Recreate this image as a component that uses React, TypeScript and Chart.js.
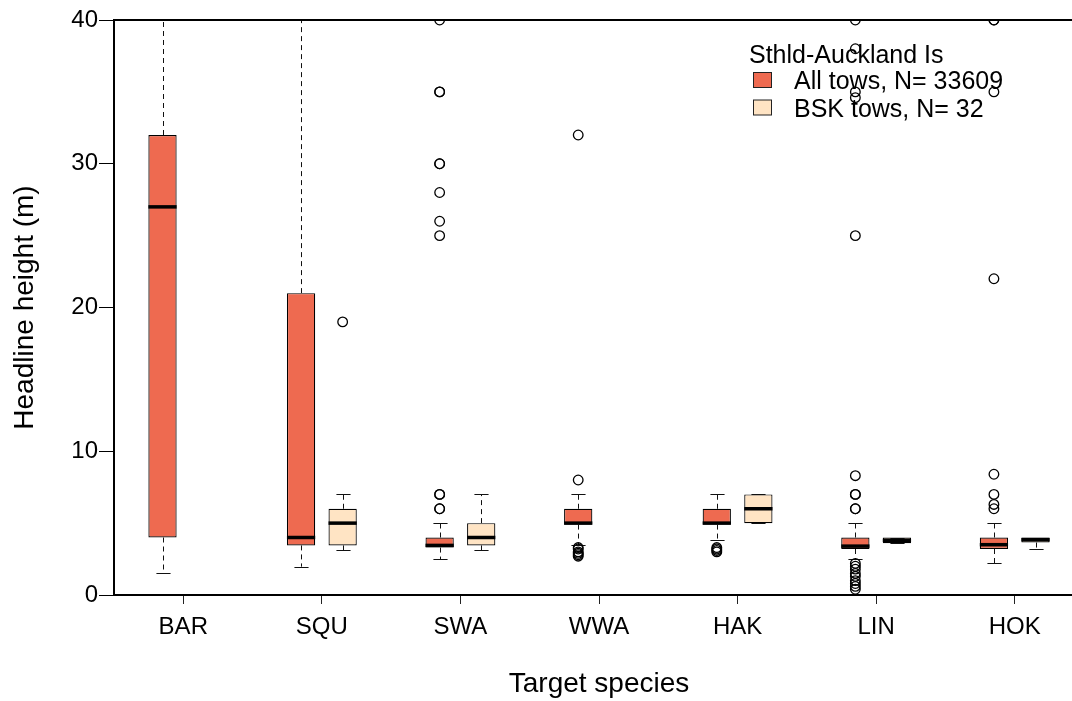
import React, { useEffect, useRef } from 'react';
import { Chart, registerables } from 'chart.js';

Chart.register(...registerables);

// ---------- data ----------
const species = ['BAR', 'SQU', 'SWA', 'WWA', 'HAK', 'LIN', 'HOK'];
const seriesNames = ['All tows, N= 33609', 'BSK tows, N= 32'];
const legendTitle = 'Sthld-Auckland Is';
const seriesColors = ['#EE6A50', '#FFE4C4'];
const yAxisTitle = 'Headline height (m)';
const xAxisTitle = 'Target species';
const yMin = 0;
const yMax = 40;
const yStep = 10;

// All tows
const allLowerWhisker = [1.55, 1.97, 2.5, 3.45, 3.8, 2.5, 2.2];
const allQ1 = [4.0, 3.45, 3.3, 4.9, 4.9, 3.2, 3.2];
const allMedian = [27.0, 4.0, 3.45, 5.0, 5.0, 3.4, 3.5];
const allQ3 = [32.0, 21.0, 4.0, 6.0, 6.0, 4.0, 4.0];
const allUpperWhisker = [55, 45, 5.0, 7.0, 7.0, 5.0, 5.0];
const allOutliers: number[][] = [
  [],
  [],
  [40, 35, 35, 30, 30, 28, 26, 25, 7, 7, 6, 6],
  [32, 8, 3.3, 3.2, 3.0, 2.9, 2.8, 2.7],
  [3.3, 3.2, 3.1, 3.0],
  [40, 38, 35, 34.6, 25, 8.3, 7, 7, 6, 6, 2.2, 2.0, 1.8, 1.5, 1.3, 1.0, 0.8, 0.6, 0.4],
  [40, 40, 35, 22, 8.4, 7, 6.3, 6.0],
];

// BSK tows
const bskLowerWhisker = [null, 3.1, 3.1, null, 5.0, 3.6, 3.2];
const bskQ1 = [null, 3.45, 3.45, null, 5.0, 3.6, 3.65];
const bskMedian = [null, 5.0, 4.0, null, 6.0, 3.8, 3.85];
const bskQ3 = [null, 6.0, 5.0, null, 7.0, 4.0, 4.0];
const bskUpperWhisker = [null, 7.0, 7.0, null, 7.0, 4.0, 4.0];
const bskOutliers: number[][] = [[], [19], [], [], [], [], []];

// ---------- helpers ----------
type Stats = {
  lo: (number | null)[];
  q1: (number | null)[];
  med: (number | null)[];
  q3: (number | null)[];
  hi: (number | null)[];
  out: number[][];
};
const groups: Stats[] = [
  { lo: allLowerWhisker, q1: allQ1, med: allMedian, q3: allQ3, hi: allUpperWhisker, out: allOutliers },
  { lo: bskLowerWhisker, q1: bskQ1, med: bskMedian, q3: bskQ3, hi: bskUpperWhisker, out: bskOutliers },
];

const FONT = "'Liberation Sans', Arial, Helvetica, sans-serif";

const boxExtras = {
  id: 'boxExtras',
  afterDatasetsDraw(chart: any) {
    const { ctx, chartArea } = chart;
    const y = chart.scales.y;
    ctx.save();
    ctx.beginPath();
    ctx.rect(chartArea.left, chartArea.top, chartArea.right - chartArea.left, chartArea.bottom - chartArea.top);
    ctx.clip();
    groups.forEach((g, di) => {
      const meta = chart.getDatasetMeta(di);
      meta.data.forEach((bar: any, i: number) => {
        if (g.med[i] == null) return;
        const { x, width } = bar.getProps(['x', 'width'], true);
        const xc = Math.round(x) + 0.5;
        const half = width / 2;
        const capHalf = width / 4;
        const pq1 = y.getPixelForValue(g.q1[i]);
        const pq3 = y.getPixelForValue(g.q3[i]);
        const plo = y.getPixelForValue(g.lo[i]);
        const phi = y.getPixelForValue(g.hi[i]);
        const pmed = y.getPixelForValue(g.med[i]);
        // whiskers (dashed)
        ctx.strokeStyle = '#111';
        ctx.lineWidth = 1;
        ctx.setLineDash([5, 4]);
        ctx.beginPath();
        ctx.moveTo(xc, pq3);
        ctx.lineTo(xc, phi);
        ctx.moveTo(xc, pq1);
        ctx.lineTo(xc, plo);
        ctx.stroke();
        // caps
        ctx.setLineDash([]);
        ctx.beginPath();
        ctx.moveTo(xc - capHalf, Math.round(phi) + 0.5);
        ctx.lineTo(xc + capHalf, Math.round(phi) + 0.5);
        ctx.moveTo(xc - capHalf, Math.round(plo) + 0.5);
        ctx.lineTo(xc + capHalf, Math.round(plo) + 0.5);
        ctx.stroke();
        // median
        ctx.strokeStyle = '#000';
        ctx.lineWidth = 3.5;
        ctx.lineCap = 'butt';
        ctx.beginPath();
        ctx.moveTo(x - half, pmed);
        ctx.lineTo(x + half, pmed);
        ctx.stroke();
        // outliers
        ctx.lineWidth = 1.3;
        g.out[i].forEach((v) => {
          const py = y.getPixelForValue(v);
          ctx.beginPath();
          ctx.arc(x, py, 4.8, 0, Math.PI * 2);
          ctx.stroke();
        });
      });
    });
    ctx.restore();
  },
  afterDraw(chart: any) {
    const { ctx, chartArea } = chart;
    ctx.save();
    // top frame line
    ctx.strokeStyle = '#000';
    ctx.lineWidth = 2;
    ctx.beginPath();
    ctx.moveTo(chartArea.left, chartArea.top);
    ctx.lineTo(chartArea.right, chartArea.top);
    ctx.stroke();
    // legend
    ctx.font = `25px ${FONT}`;
    ctx.fillStyle = '#000';
    ctx.textBaseline = 'alphabetic';
    ctx.textAlign = 'left';
    ctx.fillText(legendTitle, 749, 62.5);
    seriesNames.forEach((name, k) => {
      const top = 72.5 + k * 27.5;
      ctx.fillStyle = seriesColors[k];
      ctx.fillRect(753.5, top, 18, 15);
      ctx.strokeStyle = '#222';
      ctx.lineWidth = 1;
      ctx.strokeRect(753.5, top, 18, 15);
      ctx.fillStyle = '#000';
      ctx.fillText(name, 794, top + 16.5);
    });
    ctx.restore();
  },
};

export default function App() {
  const ref = useRef<HTMLCanvasElement | null>(null);

  useEffect(() => {
    if (!ref.current) return;
    Chart.defaults.font.family = FONT;
    Chart.defaults.color = '#000';
    const datasets = groups.map((g, di) => ({
      label: seriesNames[di],
      data: species.map((_, i) => (g.q1[i] == null ? null : [g.q1[i], g.q3[i]])),
      backgroundColor: seriesColors[di],
      borderColor: '#000',
      borderWidth: 1.2,
      borderSkipped: false,
      categoryPercentage: 0.6,
      barPercentage: 0.68,
    }));
    const chart = new Chart(ref.current, {
      type: 'bar',
      data: { labels: species, datasets: datasets as any },
      options: {
        animation: false,
        responsive: false,
        devicePixelRatio: 1,
        layout: { padding: { top: 20, right: 10, left: 0, bottom: 0 } },
        plugins: {
          legend: { display: false },
          tooltip: { enabled: false },
        },
        scales: {
          x: {
            type: 'category',
            offset: true,
            grid: {
              offset: false,
              drawOnChartArea: false,
              drawTicks: true,
              tickLength: 9,
              tickColor: '#222',
              tickWidth: 1,
            },
            border: { display: true, color: '#000', width: 2 },
            ticks: { font: { size: 24 }, padding: 9, color: '#000', maxRotation: 0, autoSkip: false },
            title: {
              display: true,
              text: xAxisTitle,
              font: { size: 28 },
              color: '#000',
              padding: { top: 0, bottom: 0 },
            },
            afterFit: (s: any) => {
              s.height = 106;
            },
          },
          y: {
            type: 'linear',
            min: yMin,
            max: yMax,
            ticks: { stepSize: yStep, font: { size: 24 }, padding: 1, color: '#000' },
            grid: {
              drawOnChartArea: false,
              drawTicks: true,
              tickLength: 15,
              tickColor: '#000',
              tickWidth: 1,
            },
            border: { display: true, color: '#000', width: 2 },
            title: {
              display: true,
              text: yAxisTitle,
              font: { size: 28 },
              color: '#000',
              padding: { top: 8.5, bottom: 0 },
            },
            afterFit: (s: any) => {
              s.width = 114;
            },
          },
        },
      },
      plugins: [boxExtras],
    });
    return () => chart.destroy();
  }, []);

  return (
    <div
      style={{
        position: 'fixed',
        left: 0,
        top: 0,
        width: 1072,
        height: 701,
        overflow: 'hidden',
        background: '#fff',
      }}
    >
      <canvas ref={ref} width={1094} height={701} style={{ width: 1094, height: 701, display: 'block' }} />
    </div>
  );
}
